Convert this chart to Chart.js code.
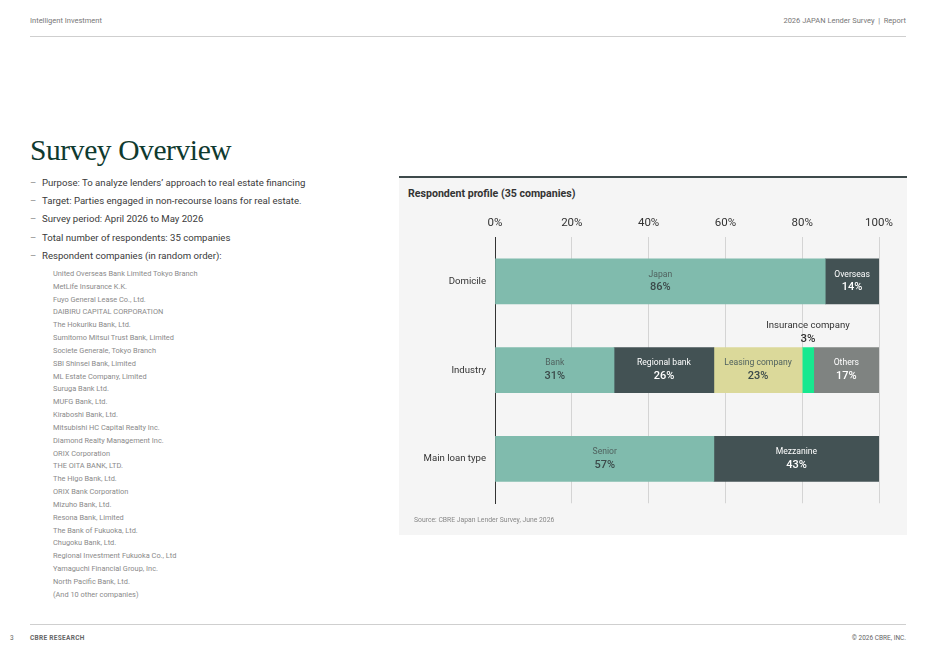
<!DOCTYPE html>
<html lang="en">
<head>
<meta charset="UTF-8">
<title>Survey Overview</title>
<style>
    body { margin: 0; background: #fff; font-family: Roboto, "Noto Sans", sans-serif; }
    #page { position: relative; width: 936px; height: 662px; overflow: hidden; }
    .hdr { position: absolute; top: 16px; font-size: 7.5px; color: #777; }
    .rule { position: absolute; left: 30px; width: 876px; height: 1px; background: #cfcfcf; }
    h1 { position: absolute; left: 30px; top: 134px; margin: 0; font-family: "Liberation Serif", "DejaVu Serif", serif;
         font-weight: normal; font-size: 29.5px; color: #0f3a2f; letter-spacing: -0.4px; }
    ul.main { position: absolute; left: 30px; top: 176px; margin: 0; padding: 0; list-style: none; }
    ul.main li { font-size: 9.6px; color: #3a3a3a; height: 18.2px; line-height: 14px; position: relative; padding-left: 12px; }
    ul.main li:before { content: "\2013"; position: absolute; left: 0; color: #888; }
    ul.cos { position: absolute; left: 53px; top: 268px; margin: 0; padding: 0; list-style: none; }
    ul.cos li { font-size: 7.4px; color: #8a8a8a; height: 12.84px; line-height: 12px; }
    #panel { position: absolute; left: 399px; top: 176px; width: 508px; height: 359px; background: #f5f5f5;
             border-top: 2px solid #3e4a4b; box-sizing: border-box; }
    #ptitle { position: absolute; left: 9px; top: 9px; font-size: 10.6px; font-weight: bold; color: #333; }
    #src { position: absolute; left: 15px; top: 338px; font-size: 6.8px; color: #888; }
    #wrap { position: absolute; left: 0; top: 22px; width: 508px; height: 318px; }
    .foot { position: absolute; top: 634px; font-size: 6.5px; color: #666; }
</style>
</head>
<body>
<div id="page">
    <div class="hdr" style="left:30px">Intelligent Investment</div>
    <div class="hdr" style="right:30px">2026 JAPAN Lender Survey &nbsp;|&nbsp; Report</div>
    <div class="rule" style="top:36px"></div>

    <h1>Survey Overview</h1>
    <ul class="main">
        <li>Purpose: To analyze lenders’ approach to real estate financing</li>
        <li>Target: Parties engaged in non-recourse loans for real estate.</li>
        <li>Survey period: April 2026 to May 2026</li>
        <li>Total number of respondents: 35 companies</li>
        <li>Respondent companies (in random order):</li>
    </ul>
    <ul class="cos" id="cos"></ul>

    <div id="panel">
        <div id="ptitle">Respondent profile (35 companies)</div>
        <div id="wrap"><canvas id="canvas"></canvas></div>
        <div id="src">Source: CBRE Japan Lender Survey, June 2026</div>
    </div>

    <div class="rule" style="top:624px"></div>
    <div class="foot" style="left:10px">3</div>
    <div class="foot" style="left:30px;font-weight:bold;letter-spacing:0.3px">CBRE RESEARCH</div>
    <div class="foot" style="right:30px">© 2026 CBRE, INC.</div>
</div>

<script src="https://cdn.jsdelivr.net/npm/chart.js@4.4.1/dist/chart.umd.min.js"></script>
<script>
    const companies = [
        "United Overseas Bank Limited  Tokyo Branch", "MetLife Insurance K.K.", "Fuyo General Lease Co., Ltd.",
        "DAIBIRU CAPITAL CORPORATION", "The Hokuriku Bank, Ltd.", "Sumitomo Mitsui Trust Bank, Limited",
        "Societe Generale, Tokyo Branch", "SBI Shinsei Bank, Limited", "ML Estate Company, Limited",
        "Suruga Bank Ltd.", "MUFG Bank, Ltd.", "Kiraboshi Bank, Ltd.", "Mitsubishi HC Capital Realty Inc.",
        "Diamond Realty Management Inc.", "ORIX Corporation", "THE OITA BANK, LTD.", "The Higo Bank, Ltd.",
        "ORIX Bank Corporation", "Mizuho Bank, Ltd.", "Resona Bank, Limited", "The Bank of Fukuoka, Ltd.",
        "Chugoku Bank, Ltd.", "Regional Investment Fukuoka Co., Ltd", "Yamaguchi Financial Group, Inc.",
        "North Pacific Bank, Ltd.", "(And 10 other companies)"
    ];
    const cosList = document.getElementById("cos");
    companies.forEach(function (c) {
        const li = document.createElement("li");
        li.textContent = c;
        cosList.appendChild(li);
    });

    // chart data
    const categories = ["Domicile", "Industry", "Main loan type"];
    const domicileLabels = ["Japan", "Overseas"];
    const domicileValues = [86, 14];
    const industryLabels = ["Bank", "Regional bank", "Leasing company", "Insurance company", "Others"];
    const industryValues = [31, 26, 23, 3, 17];
    const loanLabels = ["Senior", "Mezzanine"];
    const loanValues = [57, 43];

    const domicileColors = ["#80bbad", "#435254"];
    const industryColors = ["#80bbad", "#435254", "#dbd99a", "#17e88f", "#7f8381"];
    const loanColors = ["#80bbad", "#435254"];
    const darkFills = ["#435254", "#7f8381"];

    const segNames = [domicileLabels, industryLabels, loanLabels];
    const segValues = [domicileValues, industryValues, loanValues];
    const segColors = [domicileColors, industryColors, loanColors];

    const datasets = [];
    for (let i = 0; i < 5; i++) {
        datasets.push({
            label: "seg" + i,
            data: segValues.map(function (v) { return v[i] === undefined ? null : v[i]; }),
            names: segNames.map(function (v) { return v[i] || ""; }),
            backgroundColor: segColors.map(function (v) { return v[i] || "transparent"; }),
            borderWidth: 0,
            barThickness: 45
        });
    }

    const barLabels = {
        id: "barLabels",
        afterDatasetsDraw(chart) {
            const ctx = chart.ctx;
            ctx.save();
            ctx.textAlign = "center";
            ctx.textBaseline = "middle";
            chart.data.datasets.forEach(function (ds, di) {
                chart.getDatasetMeta(di).data.forEach(function (bar, i) {
                    const v = ds.data[i];
                    if (v === null) return;
                    const x = (bar.x + bar.base) / 2;
                    const fill = ds.backgroundColor[i];
                    const light = darkFills.indexOf(fill) < 0;
                    let yName = bar.y - 7, yPct = bar.y + 6;
                    let nameCol = light ? "#50625f" : "#ffffff";
                    let pctCol = light ? "#3b4a4a" : "#ffffff";
                    let nameFont = "8.6px Roboto", pctFont = "500 11px Roboto";
                    if (v < 5) {
                        // thin segment: label sits above the bar
                        const top = bar.y - bar.height / 2;
                        yName = top - 22; yPct = top - 8;
                        nameCol = "#333"; pctCol = "#333";
                        nameFont = "9.6px Roboto"; pctFont = "500 11.5px Roboto";
                    }
                    ctx.font = nameFont;
                    ctx.fillStyle = nameCol;
                    ctx.fillText(ds.names[i], x, yName);
                    ctx.font = pctFont;
                    ctx.fillStyle = pctCol;
                    ctx.fillText(v + "%", x, yPct);
                });
            });
            ctx.restore();
        }
    };

    Chart.defaults.font.family = "Roboto";

    const ctx = document.getElementById("canvas").getContext("2d");
    new Chart(ctx, {
        type: "bar",
        data: { labels: categories, datasets: datasets },
        options: {
            indexAxis: "y",
            responsive: true,
            maintainAspectRatio: false,
            animation: false,
            layout: { padding: { left: 0, right: 28, top: 0, bottom: 7 } },
            plugins: { legend: { display: false }, tooltip: { enabled: false } },
            scales: {
                x: {
                    position: "top",
                    stacked: true,
                    min: 0,
                    max: 100,
                    ticks: {
                        stepSize: 20,
                        padding: 7,
                        color: "#333",
                        font: { size: 11.5 },
                        callback: function (v) { return v + "%"; }
                    },
                    grid: { color: "#d4d4d4", drawTicks: false },
                    border: { display: false },
                    afterFit: function (s) { s.height = 37; }
                },
                y: {
                    stacked: true,
                    ticks: { color: "#333", font: { size: 9.6 }, padding: 9 },
                    grid: { display: false, drawTicks: false },
                    border: { display: true, color: "#333", width: 1 },
                    afterFit: function (s) { s.width = 96; }
                }
            }
        },
        plugins: [barLabels]
    });
</script>
</body>
</html>
